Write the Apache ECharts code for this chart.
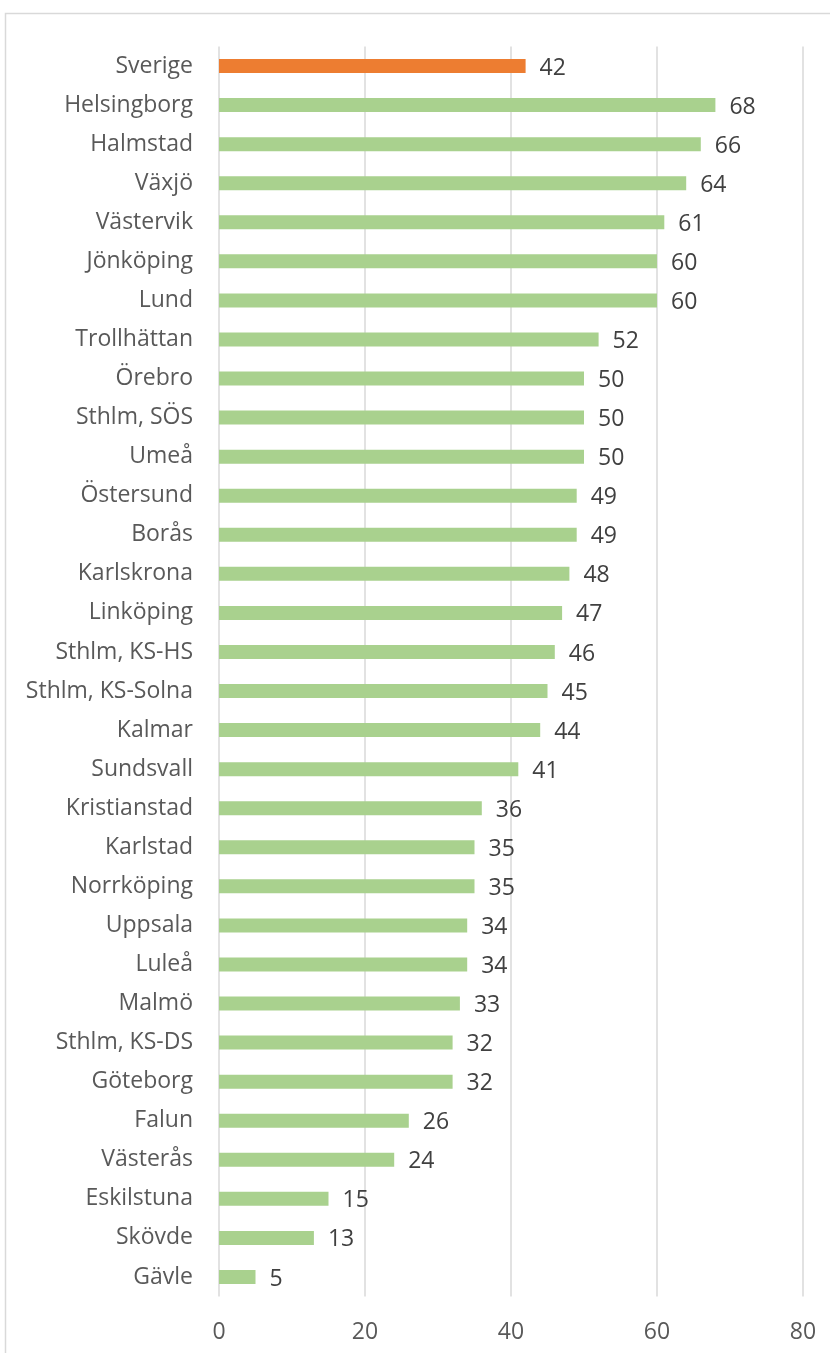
<!DOCTYPE html>
<html>
    <head>
        <meta charset="utf-8">
        <script src="https://cdn.jsdelivr.net/npm/echarts@6/dist/echarts.min.js"></script>
        <style>
            html, body {
                margin: 0;
                padding: 0;
                background: #fff;
            }
            #main {
                width: 830px;
                height: 1353px;
            }
        </style>
    </head>
    <body>
        <div id="main"></div>
        <script>
        var categories = ['Sverige', 'Helsingborg', 'Halmstad', 'Växjö', 'Västervik', 'Jönköping', 'Lund',
            'Trollhättan', 'Örebro', 'Sthlm, SÖS', 'Umeå', 'Östersund', 'Borås', 'Karlskrona', 'Linköping',
            'Sthlm, KS-HS', 'Sthlm, KS-Solna', 'Kalmar', 'Sundsvall', 'Kristianstad', 'Karlstad', 'Norrköping',
            'Uppsala', 'Luleå', 'Malmö', 'Sthlm, KS-DS', 'Göteborg', 'Falun', 'Västerås', 'Eskilstuna',
            'Skövde', 'Gävle'];
        var values = [42, 68, 66, 64, 61, 60, 60, 52, 50, 50, 50, 49, 49, 48, 47, 46, 45, 44, 41, 36, 35, 35,
            34, 34, 33, 32, 32, 26, 24, 15, 13, 5];
        var highlight = 'Sverige';

        var chart = echarts.init(document.getElementById('main'));
        var font = 'Open Sans';

        var option = {
            animation: false,
            graphic: [{
                type: 'rect',
                shape: { x: 5.5, y: 13.5, width: 900, height: 1400 },
                style: { fill: 'none', stroke: '#d9d9d9', lineWidth: 1.5 },
                silent: true
            }],
            grid: {
                left: 219,
                right: 27,
                top: 46.5,
                bottom: 56.5
            },
            xAxis: {
                type: 'value',
                min: 0,
                max: 80,
                interval: 20,
                axisLine: { show: false },
                axisTick: { show: false },
                axisLabel: {
                    color: '#595959',
                    fontFamily: font,
                    fontSize: 23,
                    margin: 24
                },
                splitLine: {
                    show: true,
                    lineStyle: { color: '#d9d9d9', width: 1.5 }
                }
            },
            yAxis: {
                type: 'category',
                inverse: true,
                data: categories,
                axisLine: { show: false },
                axisTick: { show: false },
                axisLabel: {
                    color: '#595959',
                    fontFamily: font,
                    fontSize: 23,
                    margin: 26,
                    padding: [4, 0, 0, 0]
                }
            },
            series: [{
                type: 'bar',
                barWidth: 14,
                data: values.map(function (v, i) {
                    return {
                        value: v,
                        itemStyle: { color: categories[i] === highlight ? '#ed7d31' : '#a9d18e' }
                    };
                }),
                label: {
                    show: true,
                    position: 'right',
                    distance: 14,
                    color: '#404040',
                    fontFamily: font,
                    fontSize: 23,
                    offset: [0, 2]
                }
            }]
        };
        chart.setOption(option);
        </script>
    </body>
</html>
